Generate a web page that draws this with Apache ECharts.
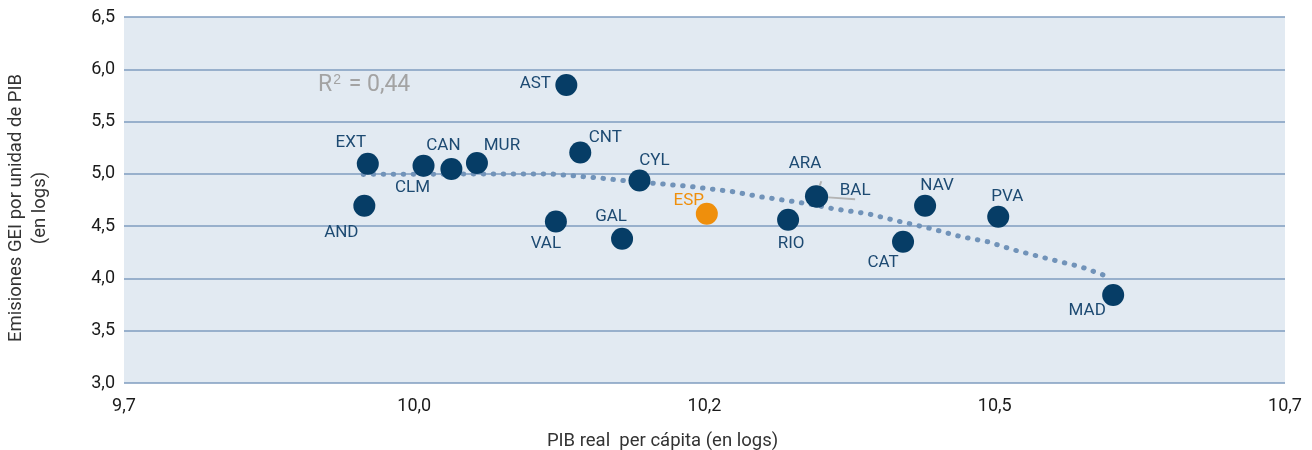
<!DOCTYPE html>
<html>
<head>
<meta charset="utf-8">
<script src="https://cdn.jsdelivr.net/npm/echarts@6/dist/echarts.min.js"></script>
<style>
    html, body { margin: 0; padding: 0; background: #fff; }
    #chart { width: 1312px; height: 450px; }
</style>
</head>
<body>
<div id="chart"></div>
<script>
    'use strict';

    // regions, GDP per capita (logs) and emissions per unit of GDP (logs)
    var regions = ['AND', 'EXT', 'CLM', 'CAN', 'MUR', 'VAL', 'AST', 'CNT', 'GAL', 'CYL',
        'ESP', 'RIO', 'ARA', 'BAL', 'CAT', 'NAV', 'PVA', 'MAD'];
    var pibValues = [9.907, 9.910, 9.958, 9.982, 10.004, 10.072, 10.081, 10.093, 10.129, 10.144,
        10.202, 10.272, 10.296, 10.297, 10.371, 10.390, 10.453, 10.552];
    var geiValues = [4.695, 5.097, 5.077, 5.046, 5.103, 4.545, 5.849, 5.205, 4.380, 4.937,
        4.619, 4.561, 4.786, 4.782, 4.351, 4.695, 4.590, 3.841];

    // fitted trend
    var trendX = [9.906, 10.067, 10.108, 10.139, 10.188, 10.225, 10.248, 10.272, 10.294, 10.311,
        10.341, 10.369, 10.392, 10.421, 10.444, 10.466, 10.496, 10.524, 10.550];
    var trendY = [4.995, 5.000, 4.962, 4.927, 4.879, 4.829, 4.781, 4.743, 4.705, 4.666,
        4.618, 4.542, 4.485, 4.399, 4.351, 4.274, 4.188, 4.112, 4.007];

    var xTickLabels = ['9,7', '10,0', '10,2', '10,5', '10,7'];
    var r2Text = '0,44';

    // label offsets (px) from each point centre, same order as regions
    var labelOffsets = [[-23, 27], [-17, -21], [-11, 22], [-8, -23], [25, -17], [-10, 22],
        [-31, -1], [25, -15], [-11, -22], [15, -20], [-18, -13], [3, 24], [-11, -32],
        [38, -6], [-20, 21], [12, -20], [9, -20], [-26, 16]];
    // labels that get a grey leader line
    var leaderLabels = ['ARA', 'BAL'];

    var navy = '#063d66';
    var orange = '#ef8f0c';

    var points = regions.map(function (name, i) {
        var isEsp = name === 'ESP';
        var item = {
            name: name,
            value: [pibValues[i], geiValues[i]],
            itemStyle: { color: isEsp ? orange : navy },
            label: {
                offset: labelOffsets[i],
                color: isEsp ? orange : '#1d4a72'
            }
        };
        if (leaderLabels.indexOf(name) >= 0) {
            item.labelLine = { show: true, lineStyle: { color: '#b4b4b4', width: 2 } };
        }
        return item;
    });

    var trend = trendX.map(function (x, i) {
        return [x, trendY[i]];
    });

    var chart = echarts.init(document.getElementById('chart'));
    chart.setOption({
        animation: false,
        textStyle: { fontFamily: 'Roboto' },
        grid: {
            left: 124,
            right: 27,
            top: 17,
            bottom: 67,
            containLabel: false,
            outerBoundsMode: 'none',
            show: true,
            borderWidth: 0,
            backgroundColor: '#e2eaf2'
        },
        xAxis: {
            type: 'value',
            min: 9.7,
            max: 10.7,
            interval: 0.25,
            name: 'PIB real  per cápita (en logs)',
            nameLocation: 'middle',
            nameGap: 49,
            nameTextStyle: { color: '#333', fontSize: 18.5, padding: [0, 84, 0, 0] },
            axisLine: { show: false },
            axisTick: { show: false },
            splitLine: { show: false },
            axisLabel: {
                color: '#1a1a1a',
                fontSize: 18,
                margin: 14,
                formatter: function (v) {
                    return xTickLabels[Math.round((v - 9.7) / 0.25)];
                }
            }
        },
        yAxis: {
            type: 'value',
            min: 3,
            max: 6.5,
            interval: 0.5,
            name: 'Emisiones GEI por unidad de PIB\n(en logs)',
            nameLocation: 'middle',
            nameGap: 72,
            nameRotate: 90,
            nameTextStyle: { color: '#333', fontSize: 18.5, lineHeight: 24, padding: [0, 16, 0, 0] },
            axisLine: { show: false },
            axisTick: { show: false },
            splitLine: { lineStyle: { color: '#7f9dbf', width: 1.5 } },
            axisLabel: {
                color: '#1a1a1a',
                fontSize: 18,
                margin: 9,
                formatter: function (v) {
                    return v.toFixed(1).replace('.', ',');
                }
            }
        },
        graphic: [{
            type: 'text',
            left: 318,
            top: 73,
            style: {
                text: 'R{sup|2} = ' + r2Text,
                fill: '#a3a3a3',
                font: '23px Roboto',
                rich: {
                    sup: { fontSize: 14, verticalAlign: 'top', padding: [0, 2, 10, 1], fill: '#a3a3a3' }
                }
            }
        }],
        series: [{
            type: 'line',
            data: trend,
            symbol: 'none',
            z: 2,
            lineStyle: { color: '#7193b9', width: 5, type: [0.5, 9.5], cap: 'round' }
        }, {
            type: 'scatter',
            data: points,
            symbolSize: 22,
            z: 3,
            itemStyle: { opacity: 1 },
            label: {
                show: true,
                position: 'inside',
                fontSize: 17,
                formatter: '{b}'
            }
        }]
    });
</script>
</body>
</html>
